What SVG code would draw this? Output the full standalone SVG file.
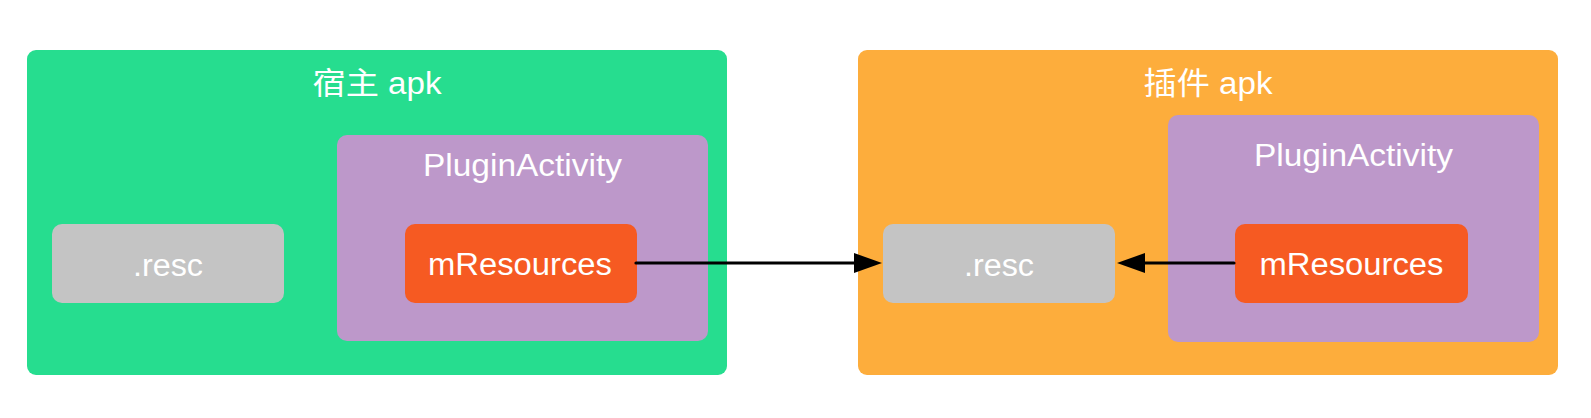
<svg xmlns="http://www.w3.org/2000/svg" width="1591" height="418" viewBox="0 0 1591 418">
  <style>
    .lbl { font-family: "Liberation Sans", "Noto Sans CJK SC", sans-serif; font-size: 31px; fill: #ffffff; text-anchor: middle; }
    .host { fill: #26dd8f; }
    .plugin { fill: #fdad3c; }
    .act { fill: #bd98ca; }
    .res { fill: #f65a22; }
    .resc { fill: #c4c4c4; }
    .conn { stroke: #000000; stroke-width: 3.2; fill: none; stroke-linecap: round; }
  </style>
  <defs>
    <marker id="arrow" markerUnits="userSpaceOnUse" markerWidth="28" markerHeight="20" refX="2" refY="10" orient="auto" overflow="visible">
      <path d="M0,0 L28,10 L0,20 Z" fill="#000000"/>
    </marker>
  </defs>
  <rect width="1591" height="418" fill="#ffffff"/>

  <g id="host-apk">
    <rect class="host" x="27" y="50" width="700" height="325" rx="9"/>
    <text class="lbl" x="377" y="94" textLength="129" lengthAdjust="spacingAndGlyphs">宿主 apk</text>
  </g>
  <g id="host-resc">
    <rect class="resc" x="52" y="224" width="232" height="79" rx="10"/>
    <text class="lbl" x="168" y="276" textLength="70" lengthAdjust="spacingAndGlyphs">.resc</text>
  </g>
  <g id="host-activity">
    <rect class="act" x="337" y="135" width="371" height="206" rx="10"/>
    <text class="lbl" x="522.5" y="176" textLength="199" lengthAdjust="spacingAndGlyphs">PluginActivity</text>
  </g>
  <g id="host-mresources">
    <rect class="res" x="405" y="224" width="232" height="79" rx="10"/>
    <text class="lbl" x="520" y="275" textLength="184" lengthAdjust="spacingAndGlyphs">mResources</text>
  </g>

  <g id="plugin-apk">
    <rect class="plugin" x="858" y="50" width="700" height="325" rx="9"/>
    <text class="lbl" x="1208" y="94" textLength="129" lengthAdjust="spacingAndGlyphs">插件 apk</text>
  </g>
  <g id="plugin-resc">
    <rect class="resc" x="883" y="224" width="232" height="79" rx="10"/>
    <text class="lbl" x="999" y="276" textLength="70" lengthAdjust="spacingAndGlyphs">.resc</text>
  </g>
  <g id="plugin-activity">
    <rect class="act" x="1168" y="115" width="371" height="227" rx="10"/>
    <text class="lbl" x="1353.5" y="166" textLength="199" lengthAdjust="spacingAndGlyphs">PluginActivity</text>
  </g>
  <g id="plugin-mresources">
    <rect class="res" x="1235" y="224" width="233" height="79" rx="10"/>
    <text class="lbl" x="1351.5" y="275" textLength="184" lengthAdjust="spacingAndGlyphs">mResources</text>
  </g>

  <g id="connectors">
    <line class="conn" x1="636" y1="263" x2="856" y2="263" marker-end="url(#arrow)"/>
    <line class="conn" x1="1234" y1="263" x2="1143" y2="263" marker-end="url(#arrow)"/>
  </g>
</svg>
